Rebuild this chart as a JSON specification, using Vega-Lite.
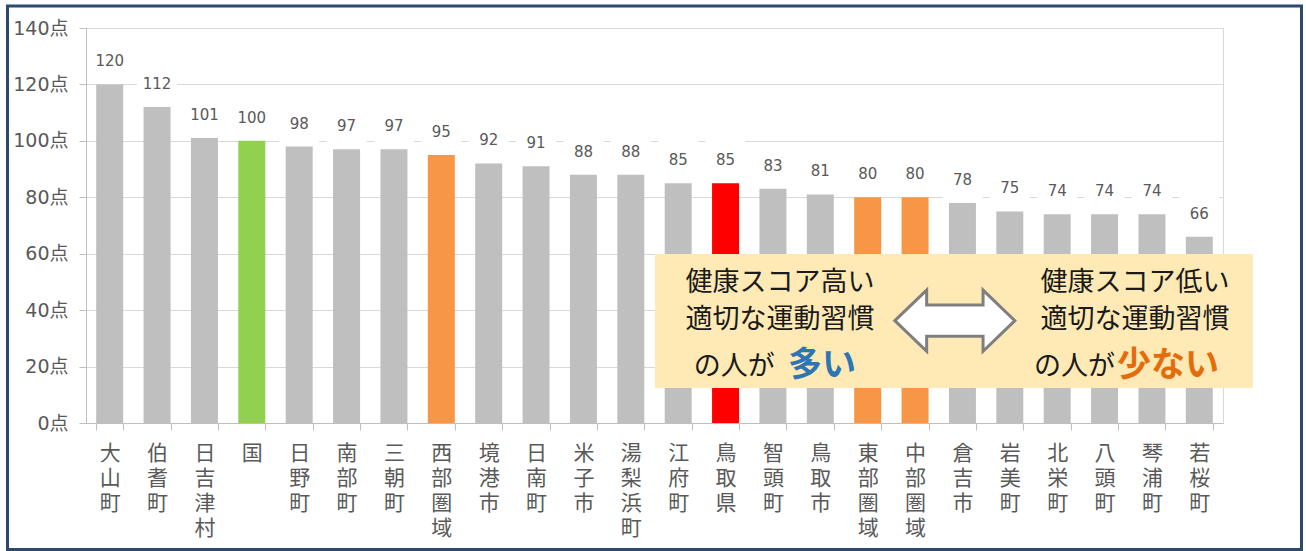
{
  "$schema": "https://vega.github.io/schema/vega-lite/v6.json",
  "width": 1137,
  "height": 395,
  "autosize": {"type": "none"},
  "padding": {"left": 86, "top": 28, "right": 83, "bottom": 128},
  "background": "white",
  "config": {
    "view": {"stroke": "#D9D9D9", "strokeWidth": 1}
  },
  "data": {
    "values": [
      {"name": "大山町", "value": 120, "type": "市町村"},
      {"name": "伯耆町", "value": 112, "type": "市町村"},
      {"name": "日吉津村", "value": 101, "type": "市町村"},
      {"name": "国", "value": 100, "type": "国"},
      {"name": "日野町", "value": 98, "type": "市町村"},
      {"name": "南部町", "value": 97, "type": "市町村"},
      {"name": "三朝町", "value": 97, "type": "市町村"},
      {"name": "西部圏域", "value": 95, "type": "圏域"},
      {"name": "境港市", "value": 92, "type": "市町村"},
      {"name": "日南町", "value": 91, "type": "市町村"},
      {"name": "米子市", "value": 88, "type": "市町村"},
      {"name": "湯梨浜町", "value": 88, "type": "市町村"},
      {"name": "江府町", "value": 85, "type": "市町村"},
      {"name": "鳥取県", "value": 85, "type": "県"},
      {"name": "智頭町", "value": 83, "type": "市町村"},
      {"name": "鳥取市", "value": 81, "type": "市町村"},
      {"name": "東部圏域", "value": 80, "type": "圏域"},
      {"name": "中部圏域", "value": 80, "type": "圏域"},
      {"name": "倉吉市", "value": 78, "type": "市町村"},
      {"name": "岩美町", "value": 75, "type": "市町村"},
      {"name": "北栄町", "value": 74, "type": "市町村"},
      {"name": "八頭町", "value": 74, "type": "市町村"},
      {"name": "琴浦町", "value": 74, "type": "市町村"},
      {"name": "若桜町", "value": 66, "type": "市町村"}
    ]
  },
  "resolve": {"scale": {"x": "independent"}, "axis": {"x": "independent"}},
  "layer": [
    {
      "layer": [
        {
          "mark": {"type": "bar"},
          "encoding": {
            "x": {
              "field": "name", "type": "nominal", "sort": null,
              "scale": {"paddingInner": 0.43, "paddingOuter": 0.215},
              "axis": {
                "title": null, "labelAngle": 0, "labelExpr": "split(datum.label, '')",
                "labelFont": "Noto Sans CJK JP", "labelFontSize": 21, "labelLineHeight": 25.3,
                "labelColor": "#595959", "labelBaseline": "top", "labelAlign": "center", "labelPadding": 12,
                "tickBand": "extent", "tickSize": 7, "tickColor": "#BFBFBF", "domainColor": "#BFBFBF",
                "grid": false, "labelOverlap": false, "labelLimit": 0
              }
            },
            "y": {
              "field": "value", "type": "quantitative",
              "scale": {"domain": [0, 140], "nice": false},
              "axis": {
                "title": null, "values": [0, 20, 40, 60, 80, 100, 120, 140],
                "labelExpr": "datum.value + '点'", "grid": true, "gridColor": "#D9D9D9", "gridWidth": 1,
                "domainColor": "#BFBFBF", "tickColor": "#BFBFBF", "tickSize": 7, "labelPadding": 11,
                "labelFont": "DejaVu Sans, Noto Sans CJK JP", "labelFontSize": 19, "labelColor": "#595959"
              }
            },
            "color": {
              "field": "type", "type": "nominal",
              "scale": {"domain": ["市町村", "国", "圏域", "県"], "range": ["#BFBFBF", "#92D050", "#F79646", "#FF0000"]},
              "legend": null
            },
            "zindex": {"value": 2}
          }
        },
        {
          "mark": {"type": "point", "shape": "square", "size": 1600, "filled": true, "color": "white", "opacity": 1, "strokeWidth": 0, "yOffset": -23.6, "zindex": 1},
          "encoding": {
            "x": {"field": "name", "type": "nominal", "sort": null, "title": null, "scale": {"paddingInner": 0.43, "paddingOuter": 0.215}},
            "y": {"field": "value", "type": "quantitative", "title": null, "scale": {"domain": [0, 140], "nice": false}}
          }
        },
        {
          "mark": {"type": "text", "dy": -23, "baseline": "middle", "align": "center", "font": "DejaVu Sans", "fontSize": 15, "color": "#595959", "zindex": 3},
          "encoding": {
            "x": {"field": "name", "type": "nominal", "sort": null, "title": null, "scale": {"paddingInner": 0.43, "paddingOuter": 0.215}},
            "y": {"field": "value", "type": "quantitative", "title": null, "scale": {"domain": [0, 140], "nice": false}},
            "text": {"field": "value", "type": "quantitative"}
          }
        }
      ]
    },
    {
      "data": {"values": [{}]},
      "mark": {"type": "rect", "filled": false, "fillOpacity": 0, "stroke": "#2B4A6E", "strokeWidth": 3},
      "encoding": {
        "x": {"datum": -1.657, "type": "quantitative", "scale": {"domain": [0, 24], "nice": false, "zero": false}, "axis": null},
        "x2": {"datum": 25.657},
        "y": {"datum": 147.8, "type": "quantitative", "title": null, "scale": {"domain": [0, 140], "nice": false}},
        "y2": {"datum": -44.84}
      }
    },
    {
      "data": {"values": [{}]},
      "mark": {"type": "rect", "color": "#FFEAB5", "opacity": 1},
      "encoding": {
        "x": {"datum": 12.01, "type": "quantitative", "scale": {"domain": [0, 24], "nice": false, "zero": false}, "axis": null},
        "x2": {"datum": 24.63},
        "y": {"datum": 59.9, "type": "quantitative", "title": null, "scale": {"domain": [0, 140], "nice": false}},
        "y2": {"datum": 12.4}
      }
    },
    {
      "data": {"values": [{}]},
      "mark": {"type": "point", "shape": "M-1,0L-0.47,-0.51L-0.47,-0.26L0.47,-0.26L0.47,-0.51L1,0L0.47,0.51L0.47,0.26L-0.47,0.26L-0.47,0.51Z", "size": 14400, "filled": true, "fill": "white", "stroke": "#7F7F7F", "strokeWidth": 3, "opacity": 1},
      "encoding": {
        "x": {"datum": 18.34, "type": "quantitative", "scale": {"domain": [0, 24], "nice": false, "zero": false}, "axis": null},
        "y": {"datum": 36.26, "type": "quantitative", "title": null, "scale": {"domain": [0, 140], "nice": false}}
      }
    },
    {
      "data": {"values": [{}]},
      "mark": {"type": "text", "font": "Noto Sans CJK JP", "fontSize": 27, "color": "#1A1A1A", "align": "center", "baseline": "middle"},
      "encoding": {
        "x": {"datum": 14.65, "type": "quantitative", "scale": {"domain": [0, 24], "nice": false, "zero": false}, "axis": null},
        "y": {"datum": 49.62, "type": "quantitative", "title": null, "scale": {"domain": [0, 140], "nice": false}},
        "text": {"value": "健康スコア高い"}
      }
    },
    {
      "data": {"values": [{}]},
      "mark": {"type": "text", "font": "Noto Sans CJK JP", "fontSize": 27, "color": "#1A1A1A", "align": "center", "baseline": "middle"},
      "encoding": {
        "x": {"datum": 14.65, "type": "quantitative", "scale": {"domain": [0, 24], "nice": false, "zero": false}, "axis": null},
        "y": {"datum": 36.51, "type": "quantitative", "title": null, "scale": {"domain": [0, 140], "nice": false}},
        "text": {"value": "適切な運動習慣"}
      }
    },
    {
      "data": {"values": [{}]},
      "mark": {"type": "text", "font": "Noto Sans CJK JP", "fontSize": 27, "color": "#1A1A1A", "align": "right", "baseline": "middle"},
      "encoding": {
        "x": {"datum": 14.54, "type": "quantitative", "scale": {"domain": [0, 24], "nice": false, "zero": false}, "axis": null},
        "y": {"datum": 19.85, "type": "quantitative", "title": null, "scale": {"domain": [0, 140], "nice": false}},
        "text": {"value": "の人が"}
      }
    },
    {
      "data": {"values": [{}]},
      "mark": {"type": "text", "font": "Noto Sans CJK JP", "fontSize": 34, "fontWeight": "bold", "color": "#2E75B6", "align": "left", "baseline": "middle"},
      "encoding": {
        "x": {"datum": 14.82, "type": "quantitative", "scale": {"domain": [0, 24], "nice": false, "zero": false}, "axis": null},
        "y": {"datum": 20.3, "type": "quantitative", "title": null, "scale": {"domain": [0, 140], "nice": false}},
        "text": {"value": "多い"}
      }
    },
    {
      "data": {"values": [{}]},
      "mark": {"type": "text", "font": "Noto Sans CJK JP", "fontSize": 27, "color": "#1A1A1A", "align": "center", "baseline": "middle"},
      "encoding": {
        "x": {"datum": 22.14, "type": "quantitative", "scale": {"domain": [0, 24], "nice": false, "zero": false}, "axis": null},
        "y": {"datum": 49.62, "type": "quantitative", "title": null, "scale": {"domain": [0, 140], "nice": false}},
        "text": {"value": "健康スコア低い"}
      }
    },
    {
      "data": {"values": [{}]},
      "mark": {"type": "text", "font": "Noto Sans CJK JP", "fontSize": 27, "color": "#1A1A1A", "align": "center", "baseline": "middle"},
      "encoding": {
        "x": {"datum": 22.14, "type": "quantitative", "scale": {"domain": [0, 24], "nice": false, "zero": false}, "axis": null},
        "y": {"datum": 36.51, "type": "quantitative", "title": null, "scale": {"domain": [0, 140], "nice": false}},
        "text": {"value": "適切な運動習慣"}
      }
    },
    {
      "data": {"values": [{}]},
      "mark": {"type": "text", "font": "Noto Sans CJK JP", "fontSize": 27, "color": "#1A1A1A", "align": "right", "baseline": "middle"},
      "encoding": {
        "x": {"datum": 21.72, "type": "quantitative", "scale": {"domain": [0, 24], "nice": false, "zero": false}, "axis": null},
        "y": {"datum": 19.85, "type": "quantitative", "title": null, "scale": {"domain": [0, 140], "nice": false}},
        "text": {"value": "の人が"}
      }
    },
    {
      "data": {"values": [{}]},
      "mark": {"type": "text", "font": "Noto Sans CJK JP", "fontSize": 34, "fontWeight": "bold", "color": "#E46C0A", "align": "left", "baseline": "middle"},
      "encoding": {
        "x": {"datum": 21.76, "type": "quantitative", "scale": {"domain": [0, 24], "nice": false, "zero": false}, "axis": null},
        "y": {"datum": 20.3, "type": "quantitative", "title": null, "scale": {"domain": [0, 140], "nice": false}},
        "text": {"value": "少ない"}
      }
    }
  ]
}
